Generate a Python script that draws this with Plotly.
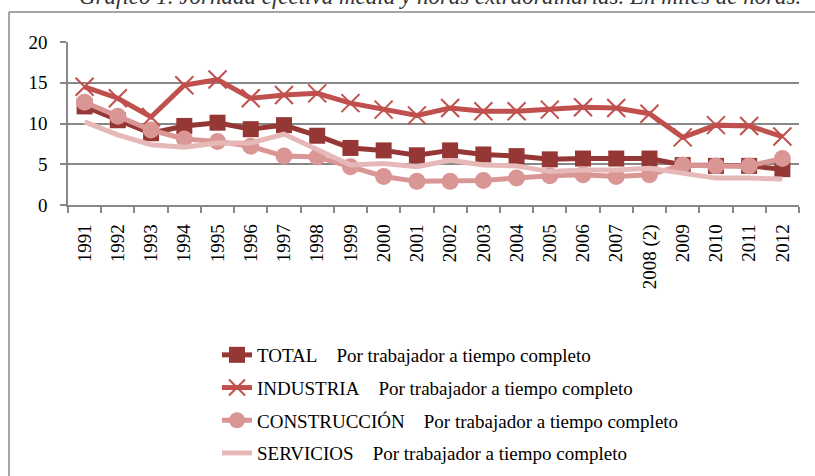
import plotly.graph_objects as go

years = ["1991", "1992", "1993", "1994", "1995", "1996", "1997", "1998", "1999", "2000",
         "2001", "2002", "2003", "2004", "2005", "2006", "2007", "2008 (2)", "2009",
         "2010", "2011", "2012"]

total = [12.1, 10.4, 8.8, 9.7, 10.1, 9.3, 9.8, 8.5, 7.0, 6.7,
         6.1, 6.7, 6.2, 6.0, 5.6, 5.7, 5.7, 5.7, 4.9, 4.8, 4.8, 4.4]
industria = [14.5, 13.1, 10.8, 14.7, 15.4, 13.1, 13.5, 13.7, 12.5, 11.7,
             11.0, 11.9, 11.5, 11.5, 11.7, 12.0, 11.9, 11.2, 8.3, 9.8, 9.7, 8.4]
construccion = [12.6, 10.9, 9.2, 8.1, 7.8, 7.2, 6.0, 5.9, 4.7, 3.5,
                2.9, 2.9, 3.0, 3.3, 3.6, 3.7, 3.5, 3.7, 4.9, 4.8, 4.8, 5.7]
servicios = [10.2, 8.6, 7.4, 7.1, 7.6, 7.6, 8.7, 6.8, 4.9, 5.1,
             4.7, 5.5, 4.9, 4.8, 4.1, 4.3, 4.3, 4.5, 3.9, 3.3, 3.3, 3.2]

sp = "\u00a0" * 4
series_names = [
    "TOTAL" + sp + "Por trabajador a tiempo completo",
    "INDUSTRIA" + sp + "Por trabajador a tiempo completo",
    "CONSTRUCCIÓN" + sp + "Por trabajador a tiempo completo",
    "SERVICIOS" + sp + "Por trabajador a tiempo completo",
]
title_text = "Gráfico 1. Jornada efectiva media y horas extraordinarias. En miles de horas."

colors = ["#953735", "#C0504D", "#D99694", "#E6B9B8"]
FONT = "Liberation Serif"
FS = 19

fig = go.Figure()
fig.add_trace(go.Scatter(x=years, y=total, name=series_names[0], mode="lines+markers",
                         line=dict(color=colors[0], width=5),
                         marker=dict(symbol="square", size=16, color=colors[0]),
                         legendgroup="a"))
fig.add_trace(go.Scatter(x=years, y=industria, name=series_names[1], mode="lines+markers",
                         line=dict(color=colors[1], width=5),
                         marker=dict(symbol="x-thin-open", size=18, color=colors[1],
                                     line=dict(color=colors[1], width=2)),
                         legendgroup="b"))
fig.add_trace(go.Scatter(x=years, y=construccion, name=series_names[2], mode="lines+markers",
                         line=dict(color=colors[2], width=5),
                         marker=dict(symbol="circle", size=17, color=colors[2]),
                         legendgroup="c"))
fig.add_trace(go.Scatter(x=years, y=servicios, name=series_names[3], mode="lines",
                         line=dict(color=colors[3], width=5),
                         legendgroup="d"))

W, H = 815, 476

def fx(x):
    return x / W

def fy(y):
    return (H - y) / H

fig.update_layout(
    width=W, height=H,
    margin=dict(l=0, r=0, t=0, b=0),
    paper_bgcolor="white", plot_bgcolor="white",
    font=dict(family=FONT, size=FS, color="black"),
    showlegend=True,
    legend=dict(x=fx(217), y=fy(336), xanchor="left", yanchor="top",
                traceorder="grouped", tracegroupgap=5,
                font=dict(family=FONT, size=FS, color="black"),
                bgcolor="rgba(0,0,0,0)"),
    xaxis=dict(domain=[fx(68), fx(799)], automargin=False, range=[-0.5, 21.5],
               type="category", showgrid=False, showline=True, linecolor="#888888",
               linewidth=1.5, ticks="outside", tickson="boundaries", ticklen=6,
               tickcolor="#888888", tickwidth=1.5, tickangle=-90,
               ticklabelstandoff=10,
               tickfont=dict(family=FONT, size=FS, color="black")),
    yaxis=dict(domain=[fy(205), fy(42)], automargin=False,
               range=[0, 20], dtick=5, showgrid=True, gridcolor="#888888", gridwidth=1.5,
               zeroline=False, showline=True, linecolor="#888888", linewidth=1.5,
               ticks="outside", ticklen=6, tickcolor="#888888", tickwidth=1.5,
               ticklabelstandoff=9,
               tickfont=dict(family=FONT, size=FS, color="black")),
    shapes=[
        dict(type="line", xref="paper", yref="paper", x0=fx(9), x1=fx(830),
             y0=fy(12), y1=fy(12), line=dict(color="#888888", width=1.5)),
        dict(type="line", xref="paper", yref="paper", x0=fx(9), x1=fx(9),
             y0=fy(12), y1=fy(490), line=dict(color="#888888", width=1.5)),
    ],
    annotations=[
        dict(text="<i>" + title_text + "</i>", xref="paper", yref="paper",
             x=fx(440), y=fy(-4), xanchor="center", yanchor="middle",
             showarrow=False, font=dict(family=FONT, size=23, color="#333333")),
    ],
)

fig.write_html("out.html", config={"displayModeBar": False},
               post_script="document.body.style.margin='0';")
